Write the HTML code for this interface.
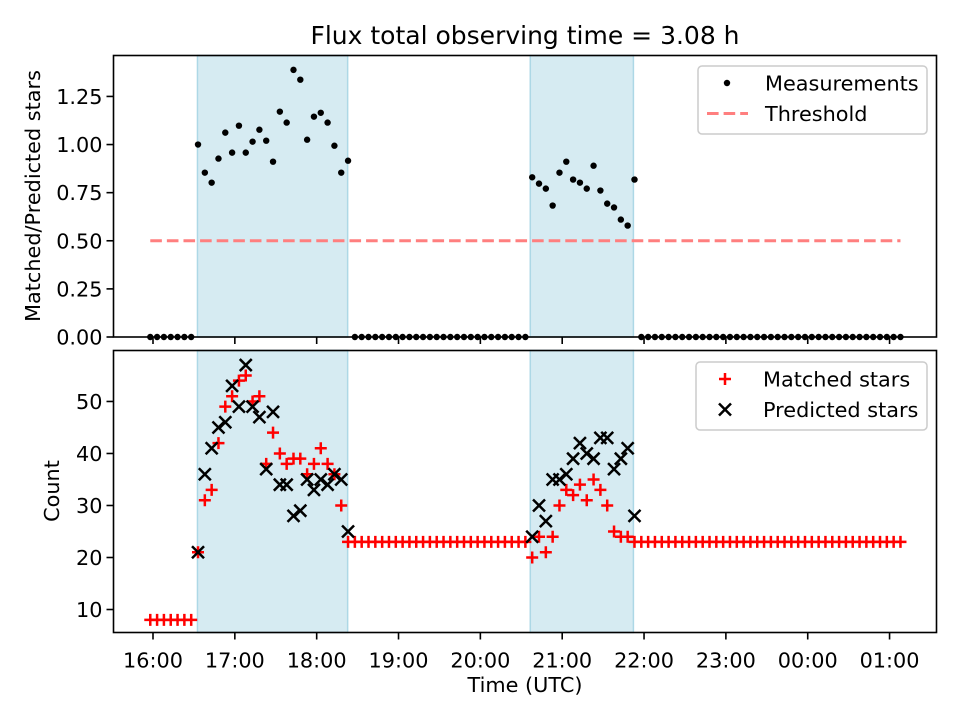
<!DOCTYPE html>
<html><head><meta charset="utf-8"><style>
body{margin:0;background:#fff;}
svg text{font-family:"DejaVu Sans","Liberation Sans",sans-serif;fill:#000;}
</style></head><body>
<svg id="fig" width="960" height="720" xmlns="http://www.w3.org/2000/svg">
<rect width="960" height="720" fill="#fff"/>
<text x="525" y="44" font-size="25" text-anchor="middle">Flux total observing time = 3.08 h</text>
<g id="topPanel"></g>
<g id="botPanel"></g>
<text x="525" y="692" font-size="20.8" text-anchor="middle">Time (UTC)</text>
<text transform="translate(40,196) rotate(-90)" font-size="20.8" text-anchor="middle">Matched/Predicted stars</text>
<text transform="translate(59,491) rotate(-90)" font-size="20.8" text-anchor="middle">Count</text>
</svg>
<script>
// time index i -> minutes since 16:00 = -2 + 5*i
const ratioVals = [0,0,0,0,0,0,0,
 1.00,0.854,0.802,0.927,1.062,0.958,1.098,0.958,1.015,1.077,1.02,0.911,1.171,1.114,1.388,1.337,1.025,1.145,1.165,1.114,0.994,0.854,0.916,
 0,0,0,0,0,0,0,0,0,0,0,0,0,0,0,0,0,0,0,0,0,0,0,0,0,0,
 0.830,0.797,0.771,0.683,0.854,0.911,0.818,0.802,0.771,0.890,0.761,0.693,0.673,0.610,0.579,0.818,
 0,0,0,0,0,0,0,0,0,0,0,0,0,0,0,0,0,0,0,0,0,0,0,0,0,0,0,0,0,0,0,0,0,0,0,0,0,0,0];
const matchedVals = [8,8,8,8,8,8,8,
 21,31,33,42,49,51,54,55,50,51,38,44,40,38,39,39,36,38,41,38,36,30,23,
 23,23,23,23,23,23,23,23,23,23,23,23,23,23,23,23,23,23,23,23,23,23,23,23,23,23,
 20,24,21,24,30,33,32,34,31,35,33,30,25,24,24,23,
 23,23,23,23,23,23,23,23,23,23,23,23,23,23,23,23,23,23,23,23,23,23,23,23,23,23,23,23,23,23,23,23,23,23,23,23,23,23,23];
const predictedStart = 7;
const predictedVals = [21,36,41,45,46,53,49,57,49,47,37,48,34,34,28,29,35,33,35,34,36,35,25,
 null,null,null,null,null,null,null,null,null,null,null,null,null,null,null,null,null,null,null,null,null,null,null,null,null,null,
 24,30,27,35,35,36,39,42,40,39,43,43,37,39,41,28];
const shadeSpans = [[32.6,142.7],[276.6,352.2]];
const threshold = 0.5;
const tickLabels = ["16:00","17:00","18:00","19:00","20:00","21:00","22:00","23:00","00:00","01:00"];
const topTicks = [0,0.25,0.5,0.75,1.0,1.25];
const botTicks = [10,20,30,40,50];

const NS="http://www.w3.org/2000/svg";
function el(tag,attrs,parent){const e=document.createElementNS(NS,tag);for(const k in attrs)e.setAttribute(k,attrs[k]);parent.appendChild(e);return e;}
const X0=113.5,X1=936.5;
function xs(min){return 153+min*81.84/60;}
const tminOf=i=>-2+5*i;
const TOPP={y0:55.5,y1:337,lo:0,hi:1.4627};
const BOTP={y0:350.5,y1:632.5,lo:5.58,hi:59.8};
function ys(P,v){return P.y1-(v-P.lo)/(P.hi-P.lo)*(P.y1-P.y0);}
const FS=20.8, LW=1.6, TL=7;

function panel(g,P,yt,fmt,showX){
  for(const s of shadeSpans){
    const r=el('rect',{x:xs(s[0]),y:P.y0,width:xs(s[1])-xs(s[0]),height:P.y1-P.y0,fill:'#add8e6','fill-opacity':0.5,stroke:'#add8e6','stroke-width':1.5},g);
    
    
  }
  for(const v of yt){
    const y=ys(P,v);
    el('line',{x1:X0-TL,x2:X0,y1:y,y2:y,stroke:'#000','stroke-width':LW},g);
    const t=el('text',{x:X0-11,y:y+7.5,'font-size':FS,'text-anchor':'end'},g);t.textContent=fmt(v);
    
    
  }
  tickLabels.forEach((lab,k)=>{
    const x=xs(k*60);
    el('line',{x1:x,x2:x,y1:P.y1,y2:P.y1+TL,stroke:'#000','stroke-width':LW},g);
    if(showX){const t=el('text',{x:x,y:P.y1+35,'font-size':FS,'text-anchor':'middle'},g);t.textContent=lab;
      
      }
  });
}
const gTop=document.getElementById('topPanel'), gBot=document.getElementById('botPanel');
panel(gTop,TOPP,topTicks,v=>v.toFixed(2),false);
panel(gBot,BOTP,botTicks,v=>String(v),true);

const th=el('line',{x1:xs(tminOf(0)),x2:xs(tminOf(ratioVals.length-1)),y1:ys(TOPP,threshold),y2:ys(TOPP,threshold),stroke:'#ff7f7f','stroke-width':3,'stroke-dasharray':'11.6,5'},gTop);


ratioVals.forEach((v,i)=>{
  const c=el('circle',{cx:xs(tminOf(i)),cy:ys(TOPP,v),r:3.2,fill:'#000'},gTop);
  
  
});
const M=6;
matchedVals.forEach((v,i)=>{
  const x=xs(tminOf(i)),y=ys(BOTP,v);
  const p=el('path',{d:`M${x-M},${y}H${x+M}M${x},${y-M}V${y+M}`,stroke:'#f00','stroke-width':2.5},gBot);
  
  
});
predictedVals.forEach((v,k)=>{
  if(v===null)return;
  const x=xs(tminOf(predictedStart+k)),y=ys(BOTP,v);
  const p=el('path',{d:`M${x-M},${y-M}L${x+M},${y+M}M${x-M},${y+M}L${x+M},${y-M}`,stroke:'#000','stroke-width':2.5},gBot);
  
  
});
for(const [g,P] of [[gTop,TOPP],[gBot,BOTP]]){
  el('rect',{x:X0,y:P.y0,width:X1-X0,height:P.y1-P.y0,fill:'none',stroke:'#000','stroke-width':LW},g);
}
function legend(g,x,y,w,h,items){
  const lg=el('g',{},g);
  
  
  el('rect',{x,y,width:w,height:h,rx:4,fill:'#fff','fill-opacity':0.8,stroke:'#ccc','stroke-width':1.5},lg);
  items.forEach((it,k)=>{
    const cy=y+17+k*30.5;
    const mx=x+29;
    if(it.t==='dot')el('circle',{cx:mx,cy:cy,r:3.2,fill:'#000'},lg);
    if(it.t==='dash')el('line',{x1:mx-20,x2:mx+21,y1:cy,y2:cy,stroke:'#ff7f7f','stroke-width':3,'stroke-dasharray':'11.6,5'},lg);
    if(it.t==='plus')el('path',{d:`M${mx-M},${cy}H${mx+M}M${mx},${cy-M}V${cy+M}`,stroke:'#f00','stroke-width':2.5},lg);
    if(it.t==='x')el('path',{d:`M${mx-M},${cy-M}L${mx+M},${cy+M}M${mx-M},${cy+M}L${mx+M},${cy-M}`,stroke:'#000','stroke-width':2.5},lg);
    const t=el('text',{x:x+67,y:cy+7.5,'font-size':FS},lg);t.textContent=it.l;
    
    
  });
}
legend(gTop,698,66,229,68,[{t:'dot',l:'Measurements'},{t:'dash',l:'Threshold'}]);
legend(gBot,696,362,231,68,[{t:'plus',l:'Matched stars'},{t:'x',l:'Predicted stars'}]);
</script>
</body></html>
